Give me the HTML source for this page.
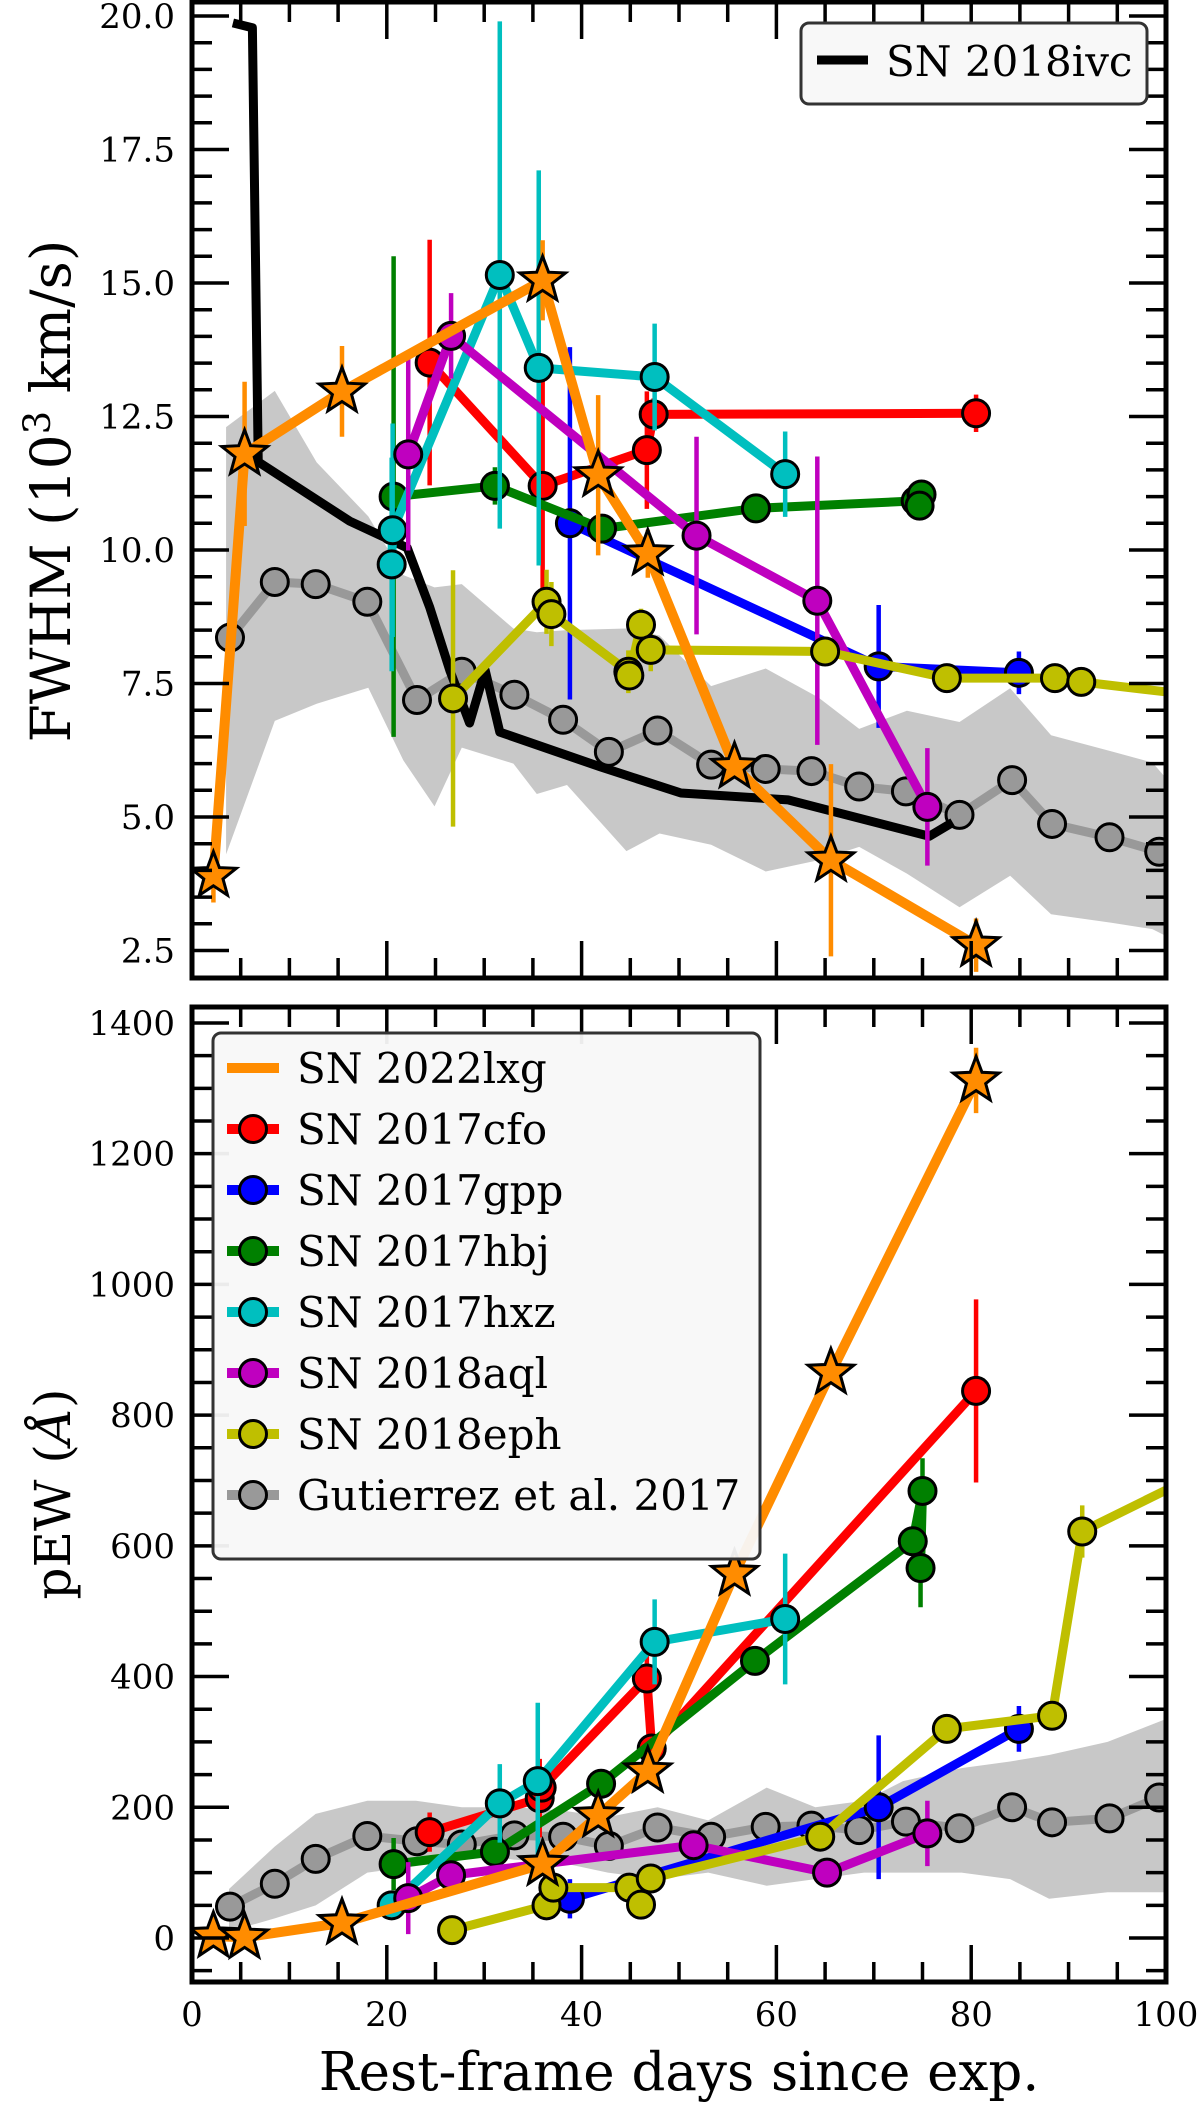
<!DOCTYPE html>
<html><head><meta charset="utf-8"><style>
html,body{margin:0;padding:0;background:#fff;}
svg{display:block;}
text{font-family:"DejaVu Serif","Liberation Serif",serif;fill:#000;}
</style></head><body>
<svg id="chart" width="1200" height="2102" viewBox="0 0 1200 2102" xmlns="http://www.w3.org/2000/svg">
<defs>
<clipPath id="clipTop"><rect x="192" y="2" width="974" height="976"/></clipPath>
<clipPath id="clipBot"><rect x="192" y="1007" width="974" height="975"/></clipPath>
</defs>
<g id="topPanel"></g>
<g id="botPanel"></g>
<g id="axes"></g>
<text transform="translate(70,491) rotate(-90)" text-anchor="middle" font-size="55">FWHM (10<tspan dy="-20" font-size="37">3</tspan><tspan dy="20"> km/s)</tspan></text>
<text transform="translate(70,1494) rotate(-90)" text-anchor="middle" font-size="50">pEW (<tspan font-style="italic">Å</tspan>)</text>
<text x="679" y="2090" text-anchor="middle" font-size="53">Rest-frame days since exp.</text>
<g>
<rect x="801" y="23" width="346" height="81" rx="8" fill="#f8f8f8" stroke="#333" stroke-width="3"/>
<line x1="817" y1="60" x2="868" y2="60" stroke="#000" stroke-width="9"/>
<text x="886" y="76" font-size="42">SN 2018ivc</text>
</g>
<g id="legendBot"></g>
</svg>
<script>
const NS='http://www.w3.org/2000/svg';
// ---------- data: FWHM panel (10^3 km/s) ----------
const lxgDays=[2.2,5.4,15.4,36.0,41.7,46.8,55.7,65.6,80.5];
const lxgFwhm=[3.9,11.8,12.97,15.05,11.4,9.93,5.94,4.19,2.6];
const lxgFwhmErr=[0.5,1.35,0.85,0.75,1.5,0.45,0,1.8,0.5];
const ivcDays=[4.2,6.2,6.8,16.2,22.1,24.4,26.5,28.5,30.1,31.6,41.9,50.2,61.2,75.7,78.1];
const ivcFwhm=[19.87,19.78,11.65,10.54,10.04,8.93,7.73,6.76,7.75,6.59,5.94,5.45,5.32,4.64,4.9];
const cfoDaysT=[24.4,36.0,46.7,47.4,80.5];
const cfoFwhm=[13.51,11.2,11.87,12.54,12.56];
const cfoFwhmErr=[2.3,2.1,1.1,0.3,0.35];
const gppDaysT=[38.8,70.5,84.9];
const gppFwhm=[10.5,7.82,7.7];
const gppFwhmErr=[3.3,1.15,0.4];
const hbjDaysT=[20.7,31.1,42.1,57.9,74.3,74.9,74.7];
const hbjFwhm=[11.0,11.2,10.4,10.78,10.92,11.04,10.83];
const hbjFwhmErr=[4.5,0.35,0,0,0,0,0];
const hxzDaysT=[20.5,20.6,31.6,35.6,47.5,60.9];
const hxzFwhm=[9.73,10.37,15.15,13.41,13.24,11.42];
const hxzFwhmErr=[2.0,2.0,4.75,3.7,1.0,0.8];
const aqlDaysT=[22.2,26.6,51.8,64.2,75.5];
const aqlFwhm=[11.79,14.01,10.27,9.05,5.19];
const aqlFwhmErr=[1.8,0.8,1.85,2.7,1.1];
const ephDaysT=[26.8,36.4,36.9,44.8,44.9,46.1,47.1,65.0,77.5,88.6,91.3,102];
const ephFwhm=[7.22,9.03,8.8,7.72,7.65,8.6,8.13,8.1,7.6,7.6,7.53,7.3];
const ephFwhmErr=[2.4,0.6,0.6,0.4,0,0.3,0.4,0,0,0,0,0];
const gutDays=[3.9,8.5,12.7,18.0,23.1,27.7,33.1,38.1,42.8,47.8,53.3,58.9,63.6,68.5,73.3,78.8,84.2,88.3,94.2,99.3];
const gutFwhm=[8.36,9.4,9.36,9.03,7.19,7.72,7.29,6.82,6.22,6.62,5.98,5.9,5.86,5.57,5.48,5.04,5.69,4.87,4.62,4.35];
const bandDaysT=[3.5,8.5,12.8,18.1,21.7,24.9,27.7,33.0,35.4,38.5,44.6,48,53.3,58.9,64.3,68.5,73.4,78.8,84.0,88.2,94.4,98.6,101];
const bandUpT=[12.3,12.98,11.64,10.63,9.53,9.3,9.36,8.53,8.46,8.5,8.53,8.4,7.45,7.78,7.24,6.65,6.99,6.78,7.41,6.53,6.23,6.02,5.52];
const bandLoT=[4.3,6.8,7.12,7.42,6.06,5.2,6.3,6.0,5.43,5.6,4.36,4.69,4.48,3.98,4.19,4.44,3.94,3.31,3.9,3.18,3.02,2.9,2.68];
// ---------- data: pEW panel (Angstrom) ----------
const lxgPew=[3,1,23,113,187,255,557,865,1312];
const lxgPewErr=[0,0,0,0,0,0,0,0,50];
const cfoDaysB=[24.4,35.7,35.9,46.7,47.2,80.5];
const cfoPew=[162,214,230,397,290,837];
const cfoPewErr=[30,60,0,50,0,140];
const gppDaysB=[38.8,70.5,84.9];
const gppPew=[60,200,320];
const gppPewErr=[30,110,35];
const hbjDaysB=[20.7,31.1,42.0,57.8,74.0,75.0,74.8];
const hbjPew=[113,132,236,424,607,684,566];
const hbjPewErr=[40,0,0,0,0,50,60];
const hxzDaysB=[20.5,31.6,35.5,47.5,60.9];
const hxzPew=[50,206,240,453,488];
const hxzPewErr=[0,60,120,65,100];
const aqlDaysB=[22.2,26.6,51.5,65.2,75.5];
const aqlPew=[61,96,142,100,160];
const aqlPewErr=[55,0,0,0,50];
const ephDaysB=[26.7,36.4,37.1,44.9,46.1,47.1,64.5,77.5,88.3,91.4,102];
const ephPew=[12,50,77,77,51,91,155,320,340,622,700];
const ephPewErr=[0,0,0,0,0,0,0,0,0,40,0];
const gutPew=[48,83,121,156,148,143,157,155,141,169,155,170,172,165,178,168,200,177,183,215];
const bandDaysB=[3.8,8.5,12.7,18,23,27.7,33,38,42.7,47.8,53,59,64,69,73,79,84,88,94,100,101];
const bandUpB=[75,140,190,210,210,200,200,195,185,200,180,230,200,210,240,260,270,280,300,335,335];
const bandLoB=[10,30,50,100,110,130,120,115,100,90,100,80,90,100,100,100,90,60,70,70,70];
const xTicks=[0,20,40,60,80,100];
const yTicksTop=[2.5,5.0,7.5,10.0,12.5,15.0,17.5,20.0];
const yTicksBot=[0,200,400,600,800,1000,1200,1400];
const legendNames=['SN 2022lxg','SN 2017cfo','SN 2017gpp','SN 2017hbj','SN 2017hxz','SN 2018aql','SN 2018eph','Gutierrez et al. 2017'];

// ---------- scales ----------
const X=d=>192+9.74*d;
const YT=v=>16+(20-v)*53.4;
const YB=p=>1938-0.6536*p;
const C={orange:'#ff8c00',red:'#ff0000',blue:'#0000ff',green:'#008000',cyan:'#00bfbf',mag:'#bf00bf',yel:'#bfbf00',gray:'#999999'};

function mk(tag,attrs,parent){const e=document.createElementNS(NS,tag);for(const k in attrs)e.setAttribute(k,attrs[k]);parent.appendChild(e);return e;}
const topEl=document.getElementById('topPanel');
const botEl=document.getElementById('botPanel');
const gT=mk('g',{'clip-path':'url(#clipTop)'},topEl);
const gB=mk('g',{'clip-path':'url(#clipBot)'},botEl);

function band(g,days,up,lo,Y,name){
  let d='';days.forEach((x,i)=>{d+=(i?'L':'M')+X(x)+','+Y(up[i]);});
  for(let i=days.length-1;i>=0;i--)d+='L'+X(days[i])+','+Y(lo[i]);
  const p=mk('path',{d:d+'Z',fill:'#c8c8c8'},g);
  
  
}
function starPath(cx,cy,R){const r=R*0.42;let d='';for(let i=0;i<10;i++){const a=-Math.PI/2+i*Math.PI/5;const rr=i%2?r:R;d+=(i?'L':'M')+(cx+rr*Math.cos(a)).toFixed(1)+','+(cy+rr*Math.sin(a)).toFixed(1);}return d+'Z';}
function series(g,days,vals,errs,Y,color,marker,name,lw){
  const grp=mk('g',{},g);
  
  
  if(errs)days.forEach((x,i)=>{if(errs[i]>0){const l=mk('line',{x1:X(x),x2:X(x),y1:Y(vals[i]-errs[i]),y2:Y(vals[i]+errs[i]),stroke:color,'stroke-width':4.5},grp);
    
    }});
  const pts=days.map((x,i)=>X(x)+','+Y(vals[i])).join(' ');
  const pl=mk('polyline',{points:pts,fill:'none',stroke:color,'stroke-width':lw||9,'stroke-linejoin':'round'},grp);
  
  
  if(marker==='o')days.forEach((x,i)=>{const c=mk('circle',{cx:X(x),cy:Y(vals[i]),r:13.5,fill:color,stroke:'#000','stroke-width':3},grp);
    
    });
  if(marker==='*')days.forEach((x,i)=>{const s=mk('path',{d:starPath(X(x),Y(vals[i]),24),fill:color,stroke:'#000','stroke-width':3,'stroke-linejoin':'miter'},grp);
    
    });
}
// top panel
band(gT,bandDaysT,bandUpT,bandLoT,YT,'gutierrez-band-fwhm');
series(gT,gutDays,gutFwhm,null,YT,C.gray,'o','gutierrez-fwhm');
series(gT,ivcDays,ivcFwhm,null,YT,'#000','','sn2018ivc-fwhm',9);
series(gT,cfoDaysT,cfoFwhm,cfoFwhmErr,YT,C.red,'o','sn2017cfo-fwhm');
series(gT,gppDaysT,gppFwhm,gppFwhmErr,YT,C.blue,'o','sn2017gpp-fwhm');
series(gT,hbjDaysT,hbjFwhm,hbjFwhmErr,YT,C.green,'o','sn2017hbj-fwhm');
series(gT,hxzDaysT,hxzFwhm,hxzFwhmErr,YT,C.cyan,'o','sn2017hxz-fwhm');
series(gT,aqlDaysT,aqlFwhm,aqlFwhmErr,YT,C.mag,'o','sn2018aql-fwhm');
series(gT,ephDaysT,ephFwhm,ephFwhmErr,YT,C.yel,'o','sn2018eph-fwhm');
series(gT,lxgDays,lxgFwhm,lxgFwhmErr,YT,C.orange,'*','sn2022lxg-fwhm',10);
// bottom panel
band(gB,bandDaysB,bandUpB,bandLoB,YB,'gutierrez-band-pew');
series(gB,gutDays,gutPew,null,YB,C.gray,'o','gutierrez-pew');
series(gB,cfoDaysB,cfoPew,cfoPewErr,YB,C.red,'o','sn2017cfo-pew');
series(gB,gppDaysB,gppPew,gppPewErr,YB,C.blue,'o','sn2017gpp-pew');
series(gB,hbjDaysB,hbjPew,hbjPewErr,YB,C.green,'o','sn2017hbj-pew');
series(gB,hxzDaysB,hxzPew,hxzPewErr,YB,C.cyan,'o','sn2017hxz-pew');
series(gB,aqlDaysB,aqlPew,aqlPewErr,YB,C.mag,'o','sn2018aql-pew');
series(gB,ephDaysB,ephPew,ephPewErr,YB,C.yel,'o','sn2018eph-pew');
series(gB,lxgDays,lxgPew,lxgPewErr,YB,C.orange,'*','sn2022lxg-pew',10);

// axes
const ax=document.getElementById('axes');
function frame(y0,y1,name){
  const r=mk('rect',{x:192,y:y0,width:974,height:y1-y0,fill:'none',stroke:'#000','stroke-width':5},ax);
  
  
  for(let d=0;d<=100;d+=5){const L=d%20===0?37:20;
    mk('line',{x1:X(d),x2:X(d),y1:y1,y2:y1-L,stroke:'#000','stroke-width':3.5},ax);
    mk('line',{x1:X(d),x2:X(d),y1:y0,y2:y0+L,stroke:'#000','stroke-width':3.5},ax);}
}
frame(2,978,'fwhm-frame');frame(1007,1982,'pew-frame');
function yticks(minor,majorStep,lo,hi,Y){
  for(let v=lo;v<=hi+1e-6;v+=minor){const isMaj=Math.abs(v/majorStep-Math.round(v/majorStep))<1e-6;const L=isMaj?37:20;const y=Y(v);
    mk('line',{x1:192,x2:192+L,y1:y,y2:y,stroke:'#000','stroke-width':3.5},ax);
    mk('line',{x1:1166,x2:1166-L,y1:y,y2:y,stroke:'#000','stroke-width':3.5},ax);}
}
yticks(0.5,2.5,2.0,20.0,YT);
yticks(50,200,-50,1400,YB);
xTicks.forEach(d=>{const t=mk('text',{x:X(d),y:2026,'text-anchor':'middle','font-size':34},ax);t.textContent=d;
  
  });
yTicksTop.forEach(v=>{const t=mk('text',{x:175,y:YT(v)+12,'text-anchor':'end','font-size':34},ax);t.textContent=v.toFixed(1);
  
  });
yTicksBot.forEach(v=>{const t=mk('text',{x:175,y:YB(v)+12,'text-anchor':'end','font-size':34},ax);t.textContent=v;
  
  });

// bottom legend
const lg=document.getElementById('legendBot');
mk('rect',{x:213,y:1033,width:547,height:526,rx:8,fill:'#f8f8f8','fill-opacity':0.95,stroke:'#333','stroke-width':3},lg);
const lcols=[C.orange,C.red,C.blue,C.green,C.cyan,C.mag,C.yel,C.gray];
legendNames.forEach((n,i)=>{const y=1068+61*i;
  const e=mk('g',{},lg);
  
  
  mk('line',{x1:227,x2:279,y1:y,y2:y,stroke:lcols[i],'stroke-width':10},e);
  if(i>0)mk('circle',{cx:253,cy:y,r:13.5,fill:lcols[i],stroke:'#000','stroke-width':3},e);
  const t=mk('text',{x:297,y:y+15,'font-size':42},e);t.textContent=n;});
</script>
</body></html>
